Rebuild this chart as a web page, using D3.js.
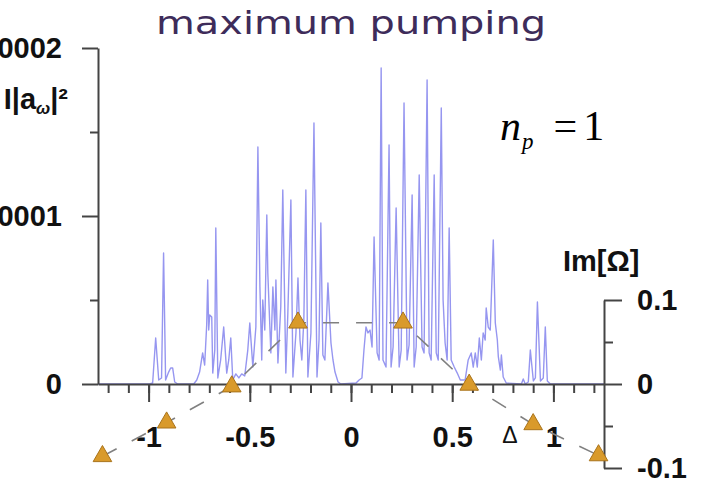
<!DOCTYPE html>
<html>
<head>
<meta charset="utf-8">
<script src="https://cdn.jsdelivr.net/npm/d3@7"></script>
<style>
  html, body { margin: 0; padding: 0; background: #fff; }
  svg { display: block; }
</style>
</head>
<body>
<div id="chart"></div>
<script>
// spectrum |a_w|^2 vs detuning Delta, power in units of 1e-4
const spectrum = [
  [-1.25, 0], [-0.995, 0], [-0.980, 0.006], [-0.965, 0.274], [-0.950, 0.024], [-0.936, 0.036],
  [-0.926, 0.780], [-0.916, 0.024], [-0.901, 0.071], [-0.891, 0.095], [-0.881, 0.095], [-0.871, 0.012],
  [-0.856, 0], [-0.777, 0], [-0.762, 0.024], [-0.748, 0.071], [-0.733, 0.185], [-0.723, 0.113],
  [-0.713, 0.351], [-0.708, 0.619], [-0.703, 0.321], [-0.698, 0.411], [-0.688, 0.399], [-0.683, 0.065],
  [-0.673, 0.202], [-0.668, 0.929], [-0.658, 0.036], [-0.644, 0.143], [-0.629, 0.339], [-0.614, 0.065],
  [-0.604, 0.143], [-0.594, 0.274], [-0.584, 0.024], [-0.569, 0.060], [-0.554, 0.036], [-0.540, 0.060],
  [-0.525, 0.048], [-0.510, 0.202], [-0.500, 0.363], [-0.485, 0.101], [-0.470, 0.339], [-0.460, 1.411],
  [-0.450, 0.577], [-0.441, 0.143], [-0.436, 0.500], [-0.426, 0.321], [-0.416, 1.006], [-0.411, 0.661],
  [-0.396, 0.185], [-0.386, 0.577], [-0.376, 0.321], [-0.371, 0.619], [-0.361, 0.125], [-0.347, 0.458],
  [-0.337, 1.155], [-0.322, 0.065], [-0.312, 0.423], [-0.297, 1.095], [-0.287, 0.042], [-0.272, 0.304],
  [-0.262, 0.631], [-0.252, 0.262], [-0.243, 0.143], [-0.233, 0.381], [-0.223, 1.155], [-0.213, 0.042],
  [-0.198, 0.304], [-0.183, 1.554], [-0.168, 0.042], [-0.158, 0.262], [-0.149, 0.958], [-0.139, 0.173],
  [-0.129, 0.143], [-0.114, 0.601], [-0.099, 0.244], [-0.089, 0.143], [-0.079, 0.071], [-0.064, 0.012],
  [-0.050, 0], [0.025, 0.006], [0.040, 0.024], [0.054, 0.036], [0.064, 0.202], [0.074, 0.339],
  [0.084, 0.304], [0.094, 0.321], [0.104, 0.220], [0.114, 0.875], [0.129, 0.185], [0.139, 0.143],
  [0.149, 1.881], [0.158, 0.143], [0.173, 0.101], [0.188, 1.423], [0.198, 0.101], [0.208, 0.220],
  [0.223, 1.048], [0.238, 0.101], [0.248, 0.202], [0.262, 1.673], [0.277, 0.143], [0.287, 0.232],
  [0.302, 1.125], [0.312, 0.101], [0.322, 0.220], [0.337, 1.244], [0.351, 0.220], [0.361, 0.185],
  [0.376, 1.810], [0.386, 0.185], [0.396, 0.143], [0.411, 1.244], [0.421, 0.185], [0.431, 0.143],
  [0.446, 1.643], [0.455, 0.500], [0.465, 0.244], [0.475, 0.143], [0.485, 0.929], [0.495, 0.143],
  [0.510, 0.101], [0.525, 0.065], [0.540, 0.024], [0.564, 0.024], [0.579, 0.143], [0.594, 0.185],
  [0.604, 0.101], [0.614, 0.185], [0.624, 0.101], [0.634, 0.274], [0.644, 0.143], [0.653, 0.304],
  [0.663, 0.262], [0.668, 0.452], [0.678, 0.339], [0.688, 0.321], [0.703, 0.857], [0.713, 0.363],
  [0.723, 0.262], [0.728, 0.161], [0.738, 0.083], [0.743, 0.173], [0.752, 0.042], [0.767, 0.006],
  [0.842, 0], [0.851, 0.030], [0.861, 0], [0.876, 0.012], [0.886, 0.202], [0.901, 0.018],
  [0.911, 0.036], [0.921, 0.488], [0.936, 0.018], [0.950, 0.036], [0.960, 0.339], [0.970, 0.018],
  [0.985, 0], [1.25, 0]
];

// Im[Omega] of the modes (triangles)
const imDelta = [-1.228, -0.911, -0.589, -0.262, 0.257, 0.584, 0.900, 1.223];
const imOmega = [-0.086, -0.046, -0.003, 0.073, 0.073, -0.001, -0.048, -0.085];

const xMajor = [-1, -0.5, 0, 0.5, 1];
const xMajorLabels = ["-1", "-0.5", "0", "0.5", "1"];
const xMinor = d3.range(-12, 13).map(i => i / 10);
const yMajor = [0, 1, 2];
const yMajorLabels = ["0", "0.0001", "0.0002"];
const yMinor = [0.5, 1.5];
const imMajor = [-0.1, 0, 0.1];
const imMajorLabels = ["-0.1", "0", "0.1"];
const imMinor = [-0.05, 0.05];

const width = 708, height = 486;
const axisColor = "#444";
const labelFont = "'Liberation Sans', Arial, sans-serif";

const svg = d3.select("#chart").append("svg")
  .attr("width", width)
  .attr("height", height);

const x = d3.scaleLinear().domain([-1.25, 1.25]).range([98, 604]);
const y = d3.scaleLinear().domain([0, 2]).range([384, 48]);
const yIm = d3.scaleLinear().domain([-0.1, 0.1]).range([468, 300]);

// spectrum line
const specLine = d3.line()
  .x(d => x(d[0]))
  .y(d => y(d[1]));

svg.append("path")
  .datum(spectrum)
  .attr("fill", "none")
  .attr("stroke", "#9696f0")
  .attr("stroke-width", 1.4)
  .attr("stroke-linejoin", "round")
  .attr("d", specLine);

function styleAxis(g) {
  g.selectAll(".domain").attr("stroke", axisColor).attr("stroke-width", 2);
  g.selectAll(".tick line").attr("stroke", axisColor).attr("stroke-width", 2);
  g.selectAll("text")
    .attr("font-family", labelFont)
    .attr("font-weight", "bold")
    .attr("font-size", 29)
    .attr("fill", "#111");
}

// x axis: minor then major
svg.append("g")
  .attr("transform", `translate(0,${y(0)})`)
  .call(d3.axisBottom(x).tickValues(xMinor).tickSize(9).tickSizeOuter(0).tickFormat(""))
  .call(styleAxis);

svg.append("g")
  .attr("transform", `translate(0,${y(0)})`)
  .call(d3.axisBottom(x).tickValues(xMajor).tickSize(18).tickPadding(24)
    .tickFormat((d, i) => xMajorLabels[i]))
  .call(g => g.select(".domain").remove())
  .call(styleAxis);

// left axis
svg.append("g")
  .attr("transform", `translate(${x(-1.25)},0)`)
  .call(d3.axisLeft(y).tickValues(yMinor).tickSize(8).tickSizeOuter(0).tickFormat(""))
  .call(styleAxis);

svg.append("g")
  .attr("transform", `translate(${x(-1.25)},0)`)
  .call(d3.axisLeft(y).tickValues(yMajor).tickSize(16).tickPadding(20)
    .tickFormat((d, i) => yMajorLabels[i]))
  .call(g => g.select(".domain").remove())
  .call(styleAxis);

// right axis Im[Omega]
svg.append("g")
  .attr("transform", `translate(${x(1.25)},0)`)
  .call(d3.axisRight(yIm).tickValues(imMinor).tickSize(9).tickSizeOuter(0).tickFormat(""))
  .call(styleAxis);

svg.append("g")
  .attr("transform", `translate(${x(1.25)},0)`)
  .call(d3.axisRight(yIm).tickValues(imMajor).tickSize(18).tickPadding(15)
    .tickFormat((d, i) => imMajorLabels[i]))
  .call(g => g.select(".domain").remove())
  .call(styleAxis);

// dashed curve through the modes
const imPts = imDelta.map((d, i) => [d, imOmega[i]]);
svg.append("path")
  .datum(imPts)
  .attr("fill", "none")
  .attr("stroke", "#808080")
  .attr("stroke-width", 1.6)
  .attr("stroke-dasharray", "16,17")
  .attr("d", d3.line().x(d => x(d[0])).y(d => yIm(d[1])));

svg.selectAll(".mode")
  .data(imPts)
  .join("path")
  .attr("class", "mode")
  .attr("transform", d => `translate(${x(d[0])},${yIm(d[1])})`)
  .attr("d", d3.symbol(d3.symbolTriangle, 150))
  .attr("fill", "#d99a2b")
  .attr("stroke", "#a9731b")
  .attr("stroke-width", 1);

// labels
svg.append("text")
  .attr("x", 156).attr("y", 34)
  .attr("font-family", "'DejaVu Sans', sans-serif")
  .attr("font-size", 32)
  .attr("textLength", 390)
  .attr("lengthAdjust", "spacingAndGlyphs")
  .attr("fill", "#3e2c5a")
  .text("maximum pumping");

const yl = svg.append("text")
  .attr("x", 68).attr("y", 109)
  .attr("text-anchor", "end")
  .attr("font-family", labelFont)
  .attr("font-weight", "bold")
  .attr("font-size", 29)
  .attr("fill", "#111");
yl.append("tspan").text("I|a");
yl.append("tspan").attr("font-size", 17).attr("font-style", "italic").attr("dy", 5).text("ω");
yl.append("tspan").attr("dy", -5).text("|²");

svg.append("text")
  .attr("x", 563).attr("y", 271)
  .attr("font-family", labelFont)
  .attr("font-weight", "bold")
  .attr("font-size", 29)
  .attr("fill", "#111")
  .text("Im[Ω]");

svg.append("text")
  .attr("x", 510).attr("y", 443)
  .attr("text-anchor", "middle")
  .attr("font-family", labelFont)
  .attr("font-size", 23)
  .attr("fill", "#111")
  .text("Δ");

const np = svg.append("text")
  .attr("x", 500).attr("y", 140)
  .attr("font-family", "'Liberation Serif', 'Times New Roman', serif")
  .attr("font-size", 42)
  .attr("fill", "#000");
np.append("tspan").attr("font-style", "italic").text("n");
np.append("tspan").attr("font-style", "italic").attr("font-size", 23).attr("dy", 9).attr("dx", 1).text("p");
np.append("tspan").attr("dy", -9).attr("dx", 20).text("=");
np.append("tspan").attr("dx", 6).text("1");
</script>
</body>
</html>
